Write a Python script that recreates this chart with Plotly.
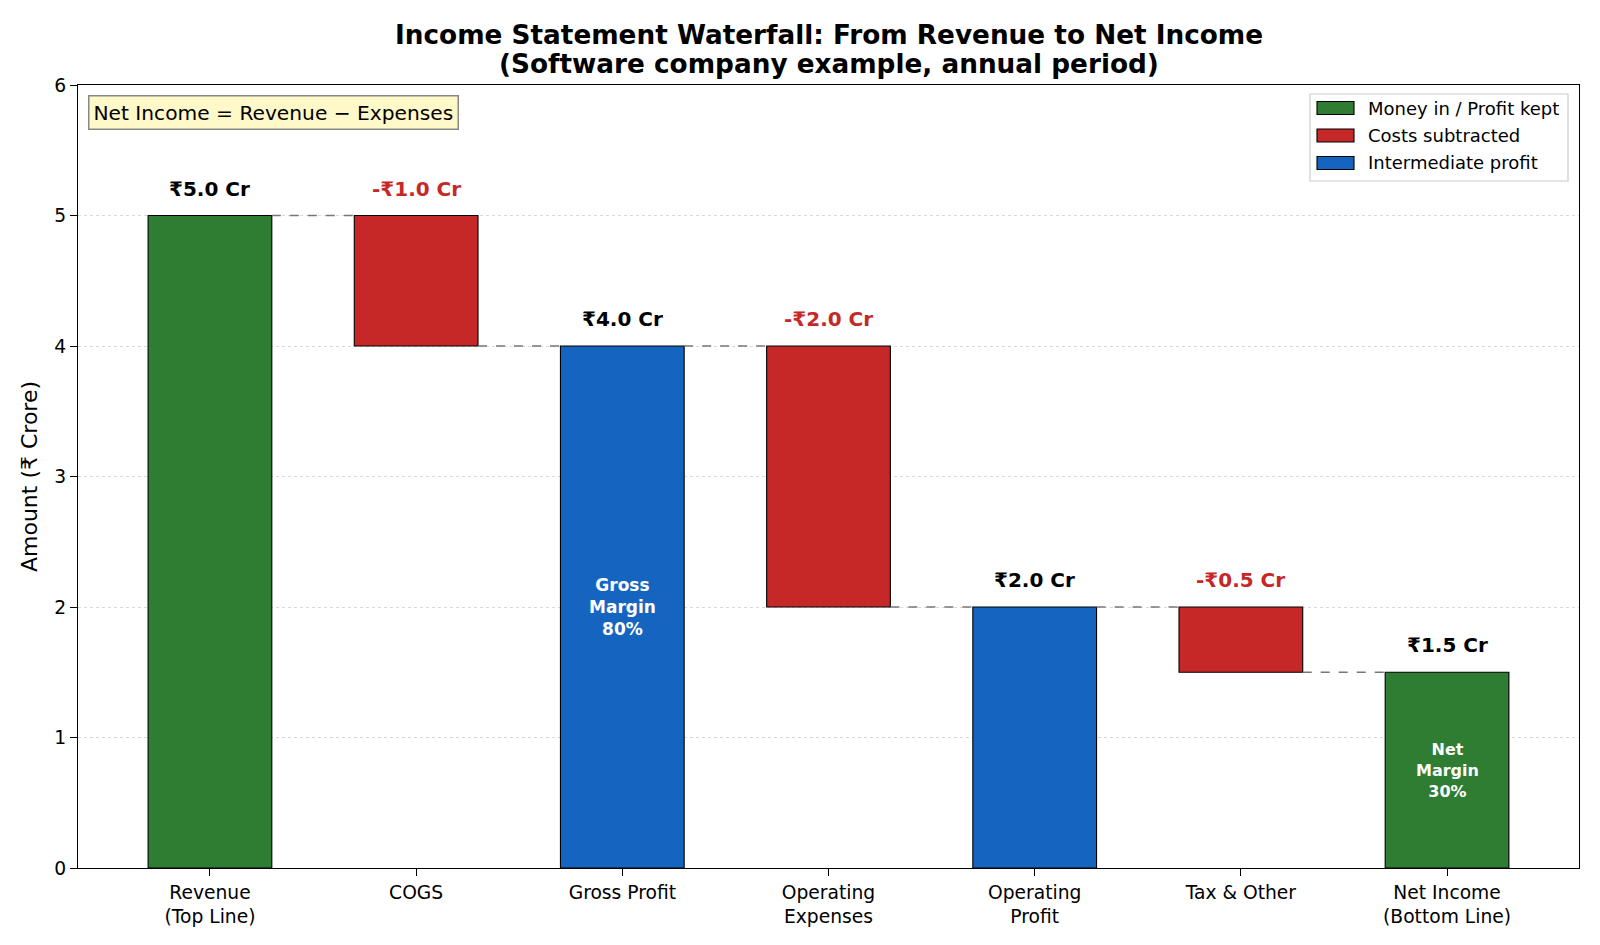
import plotly.graph_objects as go

# ---------------- data ----------------
categories = ["Revenue<br>(Top Line)", "COGS", "Gross Profit", "Operating<br>Expenses",
              "Operating<br>Profit", "Tax & Other", "Net Income<br>(Bottom Line)"]
amounts = [5.0, -1.0, 4.0, -2.0, 2.0, -0.5, 1.5]
kinds = ["in", "cost", "sub", "cost", "sub", "cost", "in"]
inside_labels = {2: "Gross<br>Margin<br>80%", 6: "Net<br>Margin<br>30%"}
legend_order = ["in", "cost", "sub"]
legend_names = {"in": "Money in / Profit kept", "cost": "Costs subtracted", "sub": "Intermediate profit"}
colors = {"in": "#2E7D32", "cost": "#C62828", "sub": "#1565C0"}

FONT = "DejaVu Sans"
BAR_W = 0.6
W, H = 1600, 945
ML, MR, MT, MB = 78, 21, 85, 77
PW, PH = W - ML - MR, H - MT - MB


def px_x(px):
    return (px - ML) / PW


def px_y(py):
    return (H - MB - py) / PH


# compute bases / heights / tops
bases, heights, tops, levels = [], [], [], []
level = 0.0
for a, k in zip(amounts, kinds):
    if k == "cost":
        base = level + a
        h = -a
        top = level
        level = level + a
    else:
        base = 0.0
        h = a
        top = a
        level = a
    bases.append(base)
    heights.append(h)
    tops.append(top)
    levels.append(level)

fig = go.Figure()
xs = list(range(len(categories)))
for k in legend_order:
    idx = [i for i in xs if kinds[i] == k]
    fig.add_trace(go.Bar(
        x=[xs[i] for i in idx], y=[heights[i] for i in idx], base=[bases[i] for i in idx],
        width=BAR_W, name=legend_names[k], showlegend=False,
        marker=dict(color=colors[k], line=dict(color="black", width=1.1)),
        hoverinfo="skip",
    ))

# connectors
for i in range(len(xs) - 1):
    fig.add_shape(type="line", xref="x", yref="y",
                  x0=xs[i] + BAR_W / 2, x1=xs[i + 1] - BAR_W / 2,
                  y0=levels[i], y1=levels[i],
                  line=dict(color="#777777", width=1.3, dash="dash"), layer="above")

# value labels
for i, a in enumerate(amounts):
    if a < 0:
        txt = f"-₹{abs(a):.1f} Cr"
        col = "#C62828"
    else:
        txt = f"₹{a:.1f} Cr"
        col = "black"
    fig.add_annotation(x=xs[i], y=tops[i], text=f"<b>{txt}</b>", showarrow=False,
                       yanchor="middle", yshift=27, font=dict(family=FONT, size=20, color=col))

# inside labels
for i, t in inside_labels.items():
    fig.add_annotation(x=xs[i], y=heights[i] / 2, text=f"<b>{t}</b>", showarrow=False,
                       yanchor="middle", font=dict(family=FONT, size=17 if i == 2 else 16, color="white"))

# title
fig.add_annotation(xref="paper", yref="paper", x=0.5, y=1, yshift=50, yanchor="middle",
                   text="<b>Income Statement Waterfall: From Revenue to Net Income</b>",
                   showarrow=False, font=dict(family=FONT, size=26.3, color="black"))
fig.add_annotation(xref="paper", yref="paper", x=0.5, y=1, yshift=21, yanchor="middle",
                   text="<b>(Software company example, annual period)</b>",
                   showarrow=False, font=dict(family=FONT, size=26.3, color="black"))

# formula box
fig.add_annotation(xref="paper", yref="paper", x=px_x(88), y=px_y(95), xanchor="left", yanchor="top",
                   text="Net Income = Revenue − Expenses", showarrow=False,
                   font=dict(family=FONT, size=20.2, color="black"),
                   bgcolor="#FFF8C8", bordercolor="#888888", borderwidth=1.5, borderpad=4)

# legend (drawn to match wide patch style)
fig.add_shape(type="rect", xref="paper", yref="paper",
              x0=px_x(1310), x1=px_x(1568), y0=px_y(181), y1=px_y(94),
              line=dict(color="#cccccc", width=1.2), fillcolor="white", layer="above")
for j, k in enumerate(legend_order):
    cy = 108 + j * 27.5
    fig.add_shape(type="rect", xref="paper", yref="paper",
                  x0=px_x(1317), x1=px_x(1354), y0=px_y(cy + 6.5), y1=px_y(cy - 6.5),
                  line=dict(color="black", width=1.1), fillcolor=colors[k], layer="above")
    fig.add_annotation(xref="paper", yref="paper", x=px_x(1366), y=px_y(cy),
                       xanchor="left", yanchor="middle", text=legend_names[k], showarrow=False,
                       font=dict(family=FONT, size=18, color="black"))

fig.update_layout(
    width=W, height=H, autosize=False,
    margin=dict(l=ML, r=MR, t=MT, b=MB),
    paper_bgcolor="white", plot_bgcolor="white",
    font=dict(family=FONT, size=18, color="black"),
    barmode="overlay",
    showlegend=False,
    xaxis=dict(range=[-0.64, 6.64], tickvals=xs, ticktext=categories,
               showline=True, mirror=True, linecolor="black", linewidth=1.2,
               ticks="outside", ticklen=7, tickcolor="black", tickwidth=1.2,
               showgrid=False, zeroline=False, tickfont=dict(family=FONT, size=18.7)),
    yaxis=dict(range=[0, 6], dtick=1, tick0=0,
               showline=True, mirror=True, linecolor="black", linewidth=1.2,
               ticks="outside", ticklen=7, tickcolor="black", tickwidth=1.2,
               showgrid=True, gridcolor="#d9d9d9", griddash="dot", gridwidth=1,
               zeroline=False, tickfont=dict(family=FONT, size=18.7),
               title=dict(text="Amount (₹ Crore)", font=dict(family=FONT, size=22), standoff=10),
               automargin=False),
)

fig.write_html("out.html")
